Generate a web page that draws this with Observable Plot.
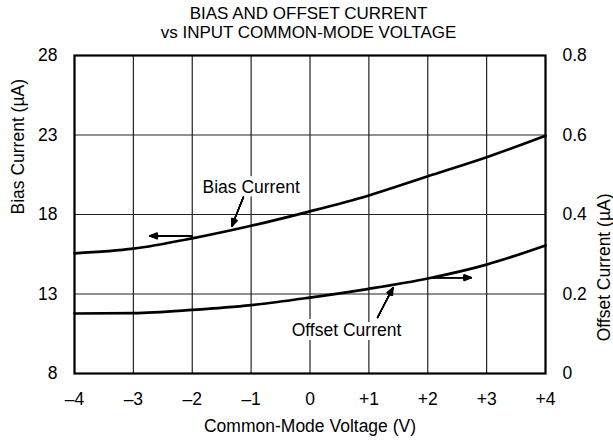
<!DOCTYPE html>
<html><head><meta charset="utf-8">
<script src="https://cdn.jsdelivr.net/npm/d3@7"></script>
<script src="https://cdn.jsdelivr.net/npm/@observablehq/plot@0.6"></script>
<style>
body{margin:0;background:#fff;font-family:"Liberation Sans",Arial,sans-serif;}
#title{width:613px;height:42px;text-align:center;font-size:17px;line-height:19px;padding-top:4px;padding-left:4px;box-sizing:border-box;color:#000}
#chart svg{overflow:visible;display:block}
</style></head><body>
<div id="title">BIAS AND OFFSET CURRENT<br>vs INPUT COMMON-MODE VOLTAGE</div>
<div id="chart"></div>
<script>
// Data
const voltage = [-4, -3, -2, -1, 0, 1, 2, 3, 4];
const biasCurrent = [15.56, 15.85, 16.5, 17.29, 18.2, 19.2, 20.4, 21.6, 22.95];   // µA
const offsetCurrent = [0.151, 0.152, 0.160, 0.172, 0.191, 0.213, 0.239, 0.274, 0.322]; // µA

const xTicks = [-4, -3, -2, -1, 0, 1, 2, 3, 4];
const xTickLabels = ["\u20134", "\u20133", "\u20132", "\u20131", "0", "+1", "+2", "+3", "+4"];
const biasTicks = [8, 13, 18, 23, 28];
const offsetTicks = [0, 0.2, 0.4, 0.6, 0.8];
const offsetTickLabels = ["0", "0.2", "0.4", "0.6", "0.8"];

// Annotations (data units; axis says which scale the y value belongs to)
const labelText = ["Bias Current", "Offset Current"];
const labelX = [-1.0, 0.62];
const labelY = [19.72, 0.109];
const labelAxis = ["bias", "offset"];

const arrowX1 = [-1.13, -2.005, 1.147, 2.005];
const arrowY1 = [19.10, 16.65, 0.141, 0.241];
const arrowX2 = [-1.33, -2.72, 1.41, 2.74];
const arrowY2 = [17.26, 16.65, 0.216, 0.241];
const arrowAxis = ["bias", "bias", "offset", "offset"];
const arrowHead = [8, 11, 8, 11];

// Offset current drawn against the bias scale: 0 → 8, 0.8 → 28
const offsetToBias = v => 8 + v * 25;
const toY = (v, axis) => axis === "offset" ? offsetToBias(v) : v;

const biasData = voltage.map((v, i) => ({v, y: biasCurrent[i]}));
const offsetData = voltage.map((v, i) => ({v, y: offsetToBias(offsetCurrent[i])}));
const labels = labelText.map((t, i) => ({t, x: labelX[i], y: toY(labelY[i], labelAxis[i])}));
const arrows = arrowX1.map((x1, i) => ({
  x1, x2: arrowX2[i],
  y1: toY(arrowY1[i], arrowAxis[i]), y2: toY(arrowY2[i], arrowAxis[i]), h: arrowHead[i]
}));

const headAngles = [0, 8, 16, 24, 32, 40, 46];
const arrowMarks = headAngles.map(a => Plot.arrow(arrows, {
  x1: "x1", y1: "y1", x2: "x2", y2: "y2",
  stroke: "black", strokeWidth: 1.3, headAngle: a, headLength: 9, insetEnd: 0
}));

const FS = "17.5px";
const chart = Plot.plot({
  width: 613,
  height: 403,
  marginLeft: 74,
  marginRight: 68,
  marginTop: 13,
  marginBottom: 72,
  style: {fontFamily: "'Liberation Sans', Arial, sans-serif", fontSize: FS, color: "black", background: "white"},
  x: {domain: [-4, 4]},
  y: {domain: [8, 28]},
  marks: [
    Plot.gridX(xTicks, {stroke: "#222", strokeOpacity: 1, strokeWidth: 1.2}),
    Plot.gridY([13, 18, 23], {stroke: "#222", strokeOpacity: 1, strokeWidth: 1.2}),
    Plot.frame({stroke: "black", strokeWidth: 2.2}),
    Plot.axisX(xTicks, {tickSize: 0, tickPadding: 19, label: null, fontSize: FS,
      tickFormat: d => xTickLabels[xTicks.indexOf(d)]}),
    Plot.axisY(biasTicks, {anchor: "left", tickSize: 0, tickPadding: 17, label: null, fontSize: FS,
      tickFormat: d => String(d)}),
    Plot.axisY(offsetTicks.map(offsetToBias), {anchor: "right", tickSize: 0, tickPadding: 17, label: null, fontSize: FS,
      tickFormat: d => offsetTickLabels[offsetTicks.map(offsetToBias).findIndex(t => Math.abs(t - d) < 1e-9)]}),
    Plot.line(biasData, {x: "v", y: "y", curve: "monotone-x", stroke: "black", strokeWidth: 2.7}),
    Plot.line(offsetData, {x: "v", y: "y", curve: "monotone-x", stroke: "black", strokeWidth: 2.7}),
    ...arrowMarks,
    Plot.text(labels, {x: "x", y: "y", text: "t", fill: "black", stroke: "white", strokeWidth: 8,
      paintOrder: "stroke", fontSize: FS}),
    Plot.text(["Common-Mode Voltage (V)"], {text: d => d, frameAnchor: "bottom", dy: 58, fontSize: FS}),
    Plot.text(["Bias Current (\u00b5A)"], {text: d => d, frameAnchor: "left", dx: -56, rotate: -90, fontSize: FS}),
    Plot.text(["Offset Current (\u00b5A)"], {text: d => d, frameAnchor: "right", dx: 59, dy: -21, rotate: -90, fontSize: FS})
  ]
});
document.getElementById("chart").appendChild(chart);
</script>
</body></html>
